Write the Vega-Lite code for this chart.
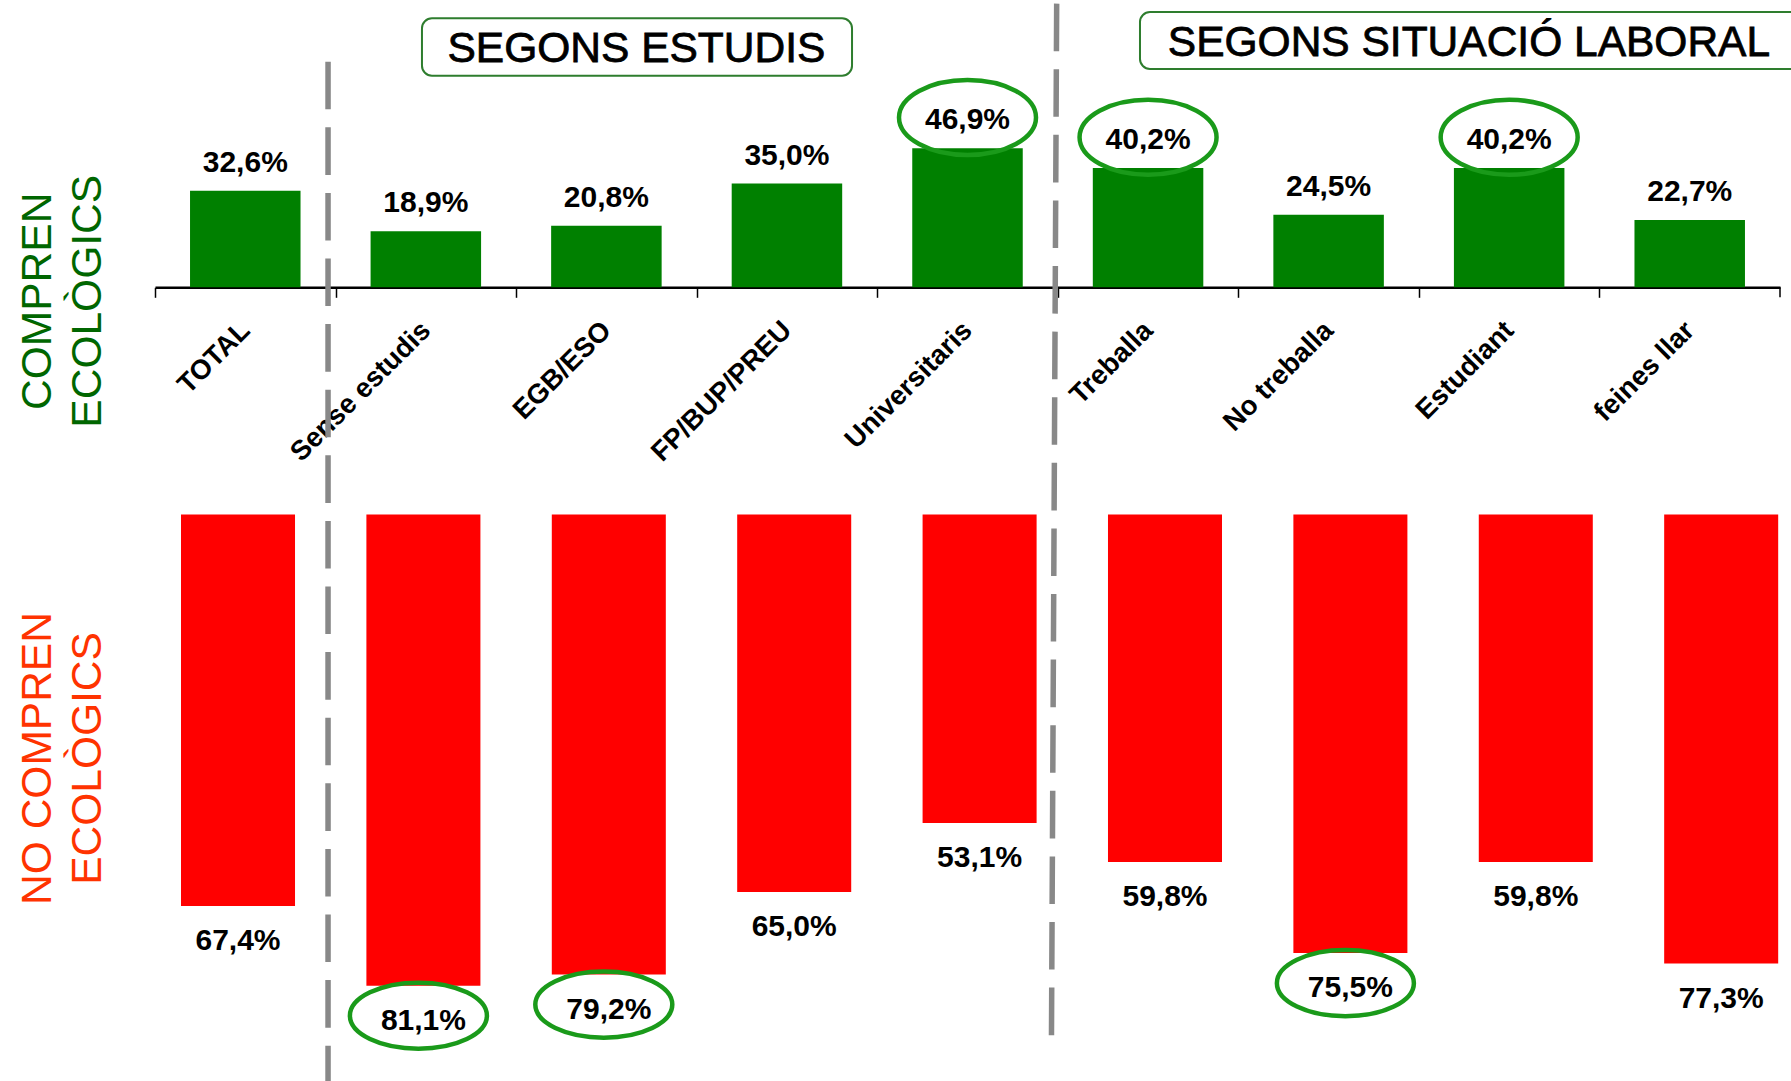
{
  "$schema": "https://vega.github.io/schema/vega-lite/v6.json",
  "width": 1625,
  "height": 1081,
  "autosize": {"type": "none"},
  "padding": {"left": 155, "right": 11, "top": 0, "bottom": 0},
  "background": "white",
  "config": {
    "view": {"stroke": null},
    "font": "Liberation Sans",
    "locale": {"number": {"decimal": ",", "thousands": ".", "grouping": [3], "currency": ["", " €"]}}
  },
  "data": {
    "values": [
      {"grup": "TOTAL", "si": 0.326, "no": 0.674},
      {"grup": "Sense estudis", "si": 0.189, "no": 0.811},
      {"grup": "EGB/ESO", "si": 0.208, "no": 0.792},
      {"grup": "FP/BUP/PREU", "si": 0.350, "no": 0.650},
      {"grup": "Universitaris", "si": 0.469, "no": 0.531},
      {"grup": "Treballa", "si": 0.402, "no": 0.598},
      {"grup": "No treballa", "si": 0.245, "no": 0.755},
      {"grup": "Estudiant", "si": 0.402, "no": 0.598},
      {"grup": "feines llar", "si": 0.227, "no": 0.773}
    ]
  },
  "layer": [
    {
      "layer": [
        {
          "mark": {"type": "bar", "color": "#008000"},
          "encoding": {
            "x": {
              "field": "grup", "type": "nominal", "sort": null,
              "scale": {"type": "band", "domain": ["TOTAL", "Sense estudis", "EGB/ESO", "FP/BUP/PREU", "Universitaris", "Treballa", "No treballa", "Estudiant", "feines llar"], "paddingInner": 0.388, "paddingOuter": 0.194, "align": 0.5},
              "axis": {
                "orient": "bottom", "offset": -793.7, "title": null, "grid": false,
                "domainColor": "#000000", "domainWidth": 2.5,
                "ticks": true, "tickColor": "#000000", "tickWidth": 1.5, "tickSize": 10,
                "bandPosition": 0, "tickOffset": -35.03, "labelOffset": 35.03,
                "labelAngle": -45, "labelAlign": "right", "labelBaseline": "middle",
                "labelFont": "Liberation Sans", "labelFontSize": 27.5, "labelFontWeight": "bold", "labelColor": "#000000",
                "labelPadding": 28.6, "labelLimit": 0, "labelOverlap": false
              }
            },
            "y": {
              "field": "si", "type": "quantitative",
              "scale": {"domain": [-2.6769, 0.969], "nice": false, "zero": false},
              "axis": {
                "orient": "left", "domain": false, "ticks": false, "labels": false, "grid": false,
                "title": ["COMPREN", "ECOLÒGICS"], "titleColor": "#006600", "titleFont": "Liberation Sans",
                "titleFontSize": 42.5, "titleFontWeight": "normal", "titleAngle": -90, "titleAlign": "center",
                "titleBaseline": "alphabetic", "titleLineHeight": 50, "titleX": -104.3, "titleY": 300.8
              }
            }
          }
        },
        {
          "mark": {"type": "text", "font": "Liberation Sans", "fontSize": 30, "fontWeight": "bold", "color": "#000000", "baseline": "alphabetic", "dy": -19},
          "encoding": {
            "x": {"field": "grup", "type": "nominal"},
            "y": {"field": "si", "type": "quantitative"},
            "text": {"field": "si", "type": "quantitative", "format": ".1%"}
          }
        },
        {
          "transform": [{"filter": {"field": "grup", "oneOf": ["Universitaris", "Treballa", "Estudiant"]}}],
          "mark": {"type": "point", "shape": "M -1 -0.45 A 1 0.547 0 1 1 1 -0.45 A 1 0.547 0 1 1 -1 -0.45 Z", "size": 18769, "filled": false, "stroke": "#1a9a1a", "strokeWidth": 4.5, "opacity": 1},
          "encoding": {
            "x": {"field": "grup", "type": "nominal"},
            "y": {"field": "si", "type": "quantitative"}
          }
        },
        {
          "data": {"values": [{}]},
          "mark": {"type": "rule", "color": "#000000", "strokeWidth": 1.5},
          "encoding": {
            "x": {"datum": "feines llar", "bandPosition": 1.317},
            "y": {"datum": 0, "type": "quantitative"},
            "y2": {"datum": -0.0337}
          }
        },
        {
          "data": {"values": [{}]},
          "mark": {"type": "rule", "color": "#888888", "strokeWidth": 5.5, "strokeDash": [47.6, 18]},
          "encoding": {
            "x": {"datum": "TOTAL", "bandPosition": 1.249},
            "y": {"datum": 0.7609, "type": "quantitative"},
            "y2": {"datum": -2.7}
          }
        },
        {
          "data": {"values": [{}]},
          "mark": {"type": "rule", "color": "#888888", "strokeWidth": 5.5, "strokeDash": [47.6, 18]},
          "encoding": {
            "x": {"datum": "Universitaris", "bandPosition": 1.307},
            "x2": {"datum": "Universitaris", "bandPosition": 1.26},
            "y": {"datum": 0.9568, "type": "quantitative"},
            "y2": {"datum": -2.5251}
          }
        },
        {
          "data": {"values": [{"titol": "SEGONS ESTUDIS"}]},
          "mark": {"type": "rect", "fill": "white", "stroke": "#2e7d2e", "strokeWidth": 2, "cornerRadius": 10},
          "encoding": {
            "x": {"datum": "Sense estudis", "bandPosition": 0.465},
            "x2": {"datum": "FP/BUP/PREU", "bandPosition": 1.089},
            "y": {"datum": 0.9073, "type": "quantitative"},
            "y2": {"datum": 0.7135}
          }
        },
        {
          "data": {"values": [{"titol": "SEGONS ESTUDIS"}]},
          "mark": {"type": "text", "font": "Liberation Sans", "fontSize": 42.5, "color": "#000000", "stroke": "#000000", "strokeWidth": 0.8, "align": "center", "baseline": "alphabetic"},
          "encoding": {
            "x": {"datum": "EGB/ESO", "bandPosition": 0.772},
            "y": {"datum": 0.7585, "type": "quantitative"},
            "text": {"field": "titol", "type": "nominal"}
          }
        },
        {
          "data": {"values": [{"titol": "SEGONS SITUACIÓ LABORAL"}]},
          "mark": {"type": "rect", "fill": "white", "stroke": "#2e7d2e", "strokeWidth": 2, "cornerRadius": 10},
          "encoding": {
            "x": {"datum": "Treballa", "bandPosition": 0.427},
            "x2": {"datum": "feines llar", "bandPosition": 1.7},
            "y": {"datum": 0.9285, "type": "quantitative"},
            "y2": {"datum": 0.7363}
          }
        },
        {
          "data": {"values": [{"titol": "SEGONS SITUACIÓ LABORAL"}]},
          "mark": {"type": "text", "font": "Liberation Sans", "fontSize": 42.5, "color": "#000000", "stroke": "#000000", "strokeWidth": 0.8, "align": "center", "baseline": "alphabetic"},
          "encoding": {
            "x": {"datum": "Estudiant", "bandPosition": 0.136},
            "y": {"datum": 0.7801, "type": "quantitative"},
            "text": {"field": "titol", "type": "nominal"}
          }
        }
      ]
    },
    {
      "layer": [
        {
          "mark": {"type": "bar", "color": "#ff0000"},
          "encoding": {
            "x": {
              "field": "grup", "type": "nominal", "sort": null,
              "scale": {"type": "band", "domain": ["TOTAL", "Sense estudis", "EGB/ESO", "FP/BUP/PREU", "Universitaris", "Treballa", "No treballa", "Estudiant", "feines llar"], "paddingInner": 0.385, "paddingOuter": 0.075, "align": 0.935},
              "axis": null
            },
            "y": {
              "field": "no", "type": "quantitative",
              "scale": {"domain": [-0.8855, 0.9751], "reverse": true, "nice": false, "zero": false},
              "axis": {
                "orient": "left", "domain": false, "ticks": false, "labels": false, "grid": false,
                "title": ["NO COMPREN", "ECOLÒGICS"], "titleColor": "#ff3300", "titleFont": "Liberation Sans",
                "titleFontSize": 42.5, "titleFontWeight": "normal", "titleAngle": -90, "titleAlign": "center",
                "titleBaseline": "alphabetic", "titleLineHeight": 50, "titleX": -104.5, "titleY": 758
              }
            }
          }
        },
        {
          "mark": {"type": "text", "font": "Liberation Sans", "fontSize": 30, "fontWeight": "bold", "color": "#000000", "baseline": "top", "dy": 20},
          "encoding": {
            "x": {"field": "grup", "type": "nominal", "axis": null},
            "y": {"field": "no", "type": "quantitative"},
            "text": {"field": "no", "type": "quantitative", "format": ".1%"}
          }
        },
        {
          "transform": [{"filter": {"field": "grup", "oneOf": ["Sense estudis", "EGB/ESO", "No treballa"]}}],
          "mark": {"type": "point", "shape": "M -1.073 0.438 A 1 0.482 0 1 1 0.927 0.438 A 1 0.482 0 1 1 -1.073 0.438 Z", "size": 18769, "filled": false, "stroke": "#1a9a1a", "strokeWidth": 4.5, "opacity": 1},
          "encoding": {
            "x": {"field": "grup", "type": "nominal", "axis": null},
            "y": {"field": "no", "type": "quantitative"}
          }
        }
      ]
    }
  ],
  "resolve": {
    "scale": {"x": "independent", "y": "independent"},
    "axis": {"x": "independent", "y": "independent"}
  }
}
